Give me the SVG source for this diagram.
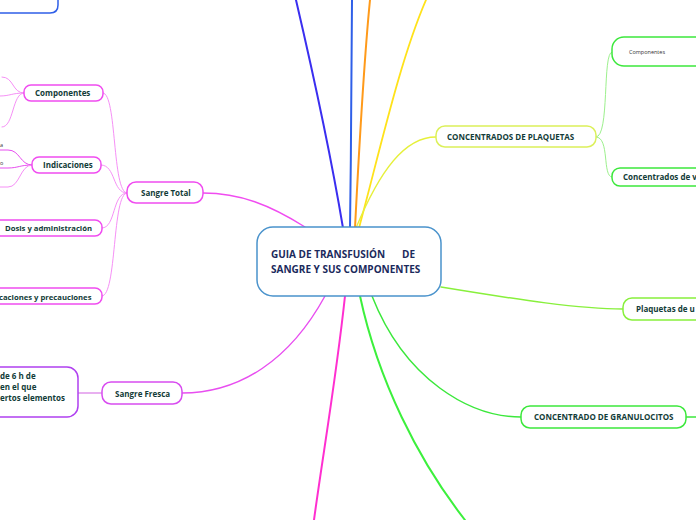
<svg xmlns="http://www.w3.org/2000/svg" width="696" height="520" viewBox="0 0 696 520">
<style>
.t{font-family:"Open Sans","Noto Sans","Liberation Sans",sans-serif;font-weight:bold;fill:#123c38;font-size:8px}
.sm{font-size:7.7px}
.h{font-family:"Open Sans","Noto Sans","Liberation Sans",sans-serif;font-weight:bold;fill:#1b2a5c;font-size:10px}
.s{font-family:"Open Sans","Noto Sans","Liberation Sans",sans-serif;fill:#333;font-size:5.5px}
.c{fill:none;stroke-linecap:round}
.n{fill:#fff;stroke-width:1.5}
</style>
<rect width="696" height="520" fill="#fff"/>
<g id="connectors">
<path class="c" d="M343,228 C330,150 310,60 296,0" stroke="#3a2ef0" stroke-width="2"/>
<path class="c" d="M350,228 C351,150 352,60 352,0" stroke="#2f5fe8" stroke-width="2"/>
<path class="c" d="M355,228 C359,150 364,60 370,0" stroke="#ff9a1a" stroke-width="2"/>
<path class="c" d="M359,228 C380,150 400,60 426,0" stroke="#ffe21a" stroke-width="1.8"/>
<path class="c" d="M356,228 C380,170 405,137 436,137" stroke="#e6f03a" stroke-width="1.3"/>
<path class="c" d="M305,227 C270,205 240,193 203,193" stroke="#f04cf0" stroke-width="1.4"/>
<path class="c" d="M325,296 C290,360 240,393 182,393" stroke="#e84ef0" stroke-width="1.4"/>
<path class="c" d="M345,296 C336,380 322,460 314,520" stroke="#ff2fd0" stroke-width="2"/>
<path class="c" d="M360,296 C378,380 418,460 465,520" stroke="#3cf03c" stroke-width="2"/>
<path class="c" d="M372,296 C405,380 470,417 521,417" stroke="#3ce83c" stroke-width="1.5"/>
<path class="c" d="M441,287 C520,300 580,309 623,309" stroke="#88f03c" stroke-width="1.5"/>
<path class="c" d="M686,417 L696,417" stroke="#3ce83c" stroke-width="1.5"/>
<path class="c" d="M596,137 C610,137 602,52 612,52" stroke="#9cf08c" stroke-width="1"/>
<path class="c" d="M596,137 C610,137 602,177 612,177" stroke="#9cf08c" stroke-width="1"/>
<path class="c" d="M127,193 C112,193 117,93 103,93" stroke="#f690f6" stroke-width="1"/>
<path class="c" d="M127,193 C112,193 116,165 101,165" stroke="#f690f6" stroke-width="1"/>
<path class="c" d="M127,193 C112,193 116,228 102,228" stroke="#f690f6" stroke-width="1"/>
<path class="c" d="M127,193 C112,193 117,296 102,296" stroke="#f690f6" stroke-width="1"/>
<path class="c" d="M24,93 C12,93 14,77 2,77" stroke="#f690f6" stroke-width="1"/>
<path class="c" d="M24,93 C12,93 10,96 0,96" stroke="#f690f6" stroke-width="1"/>
<path class="c" d="M24,93 C12,93 14,127 2,127" stroke="#f690f6" stroke-width="1"/>
<path class="c" d="M32,165 C20,165 20,150 8,150 L0,150" stroke="#e84ef0" stroke-width="1"/>
<path class="c" d="M32,165 C20,165 18,168 8,168 L0,168" stroke="#e84ef0" stroke-width="1"/>
<path class="c" d="M32,165 C20,165 20,187 8,187 L0,187" stroke="#f690f6" stroke-width="1"/>
<path class="c" d="M78,393 L102,393" stroke="#e8b0f0" stroke-width="2"/>
</g>
<g id="topleft">
<path d="M-10,13 L50,13 Q58,13 58,5 L58,-2" fill="none" stroke="#2f5fe8" stroke-width="1.5"/>
</g>
<g id="center">
<rect class="n" x="257" y="227" width="184" height="69" rx="16" fill="#f8fbff" stroke="#4a93cc" stroke-width="1.2"/>
<text class="h" x="271" y="258">GUIA DE TRANSFUSIÓN<tspan x="402">DE</tspan></text>
<text class="h" x="271" y="273">SANGRE Y SUS COMPONENTES</text>
</g>
<g id="concentrados-plaquetas">
<rect class="n" x="436" y="126" width="160" height="21" rx="9" stroke="#dcf05a"/>
<text class="t" x="447" y="140">CONCENTRADOS DE PLAQUETAS</text>
</g>
<g id="componentes-r">
<rect class="n" x="612" y="37" width="100" height="29" rx="12" stroke="#3ce83c" stroke-width="1"/>
<text class="s" x="629" y="54">Componentes</text>
</g>
<g id="concentrados-v">
<rect class="n" x="612" y="168" width="100" height="18" rx="8" stroke="#3ce83c" stroke-width="1"/>
<text class="t" x="623" y="180">Concentrados de v</text>
</g>
<g id="plaquetas-u">
<rect class="n" x="623" y="298" width="90" height="22" rx="9" stroke="#88f03c"/>
<text class="t" x="636" y="312">Plaquetas de u</text>
</g>
<g id="granulocitos">
<rect class="n" x="521" y="406" width="165" height="22" rx="9" stroke="#3ce83c"/>
<text class="t" x="534" y="420">CONCENTRADO DE GRANULOCITOS</text>
</g>
<g id="sangre-total">
<rect class="n" x="127" y="182" width="76" height="21" rx="9" stroke="#f04cf0"/>
<text class="t" x="141" y="196">Sangre Total</text>
</g>
<g id="componentes">
<rect class="n" x="24" y="85" width="79" height="16" rx="7" stroke="#f04cf0"/>
<text class="t" x="35" y="96">Componentes</text>
</g>
<g id="indicaciones">
<rect class="n" x="32" y="157" width="69" height="16" rx="7" stroke="#f04cf0"/>
<text class="t" x="43" y="168">Indicaciones</text>
<text class="s" x="0" y="147">a</text>
<text class="s" x="0" y="165">o</text>
</g>
<g id="dosis">
<rect class="n" x="-12" y="220" width="114" height="16" rx="7" stroke="#f04cf0"/>
<text class="t sm" x="5" y="231">Dosis y administración</text>
</g>
<g id="contraindicaciones">
<rect class="n" x="-12" y="288" width="114" height="16" rx="7" stroke="#f04cf0"/>
<text class="t sm" x="-1" y="300">caciones y precauciones</text>
</g>
<g id="sangre-fresca">
<rect class="n" x="102" y="382" width="80" height="22" rx="9" stroke="#d84cf0"/>
<text class="t" x="115" y="397">Sangre Fresca</text>
</g>
<g id="fresca-def">
<rect class="n" x="-20" y="367" width="98" height="50" rx="11" stroke="#b040f0"/>
<text class="t" x="0" y="379">de 6 h de</text>
<text class="t" x="0" y="390">en el que</text>
<text class="t" x="0" y="401">ertos elementos</text>
</g>
</svg>
